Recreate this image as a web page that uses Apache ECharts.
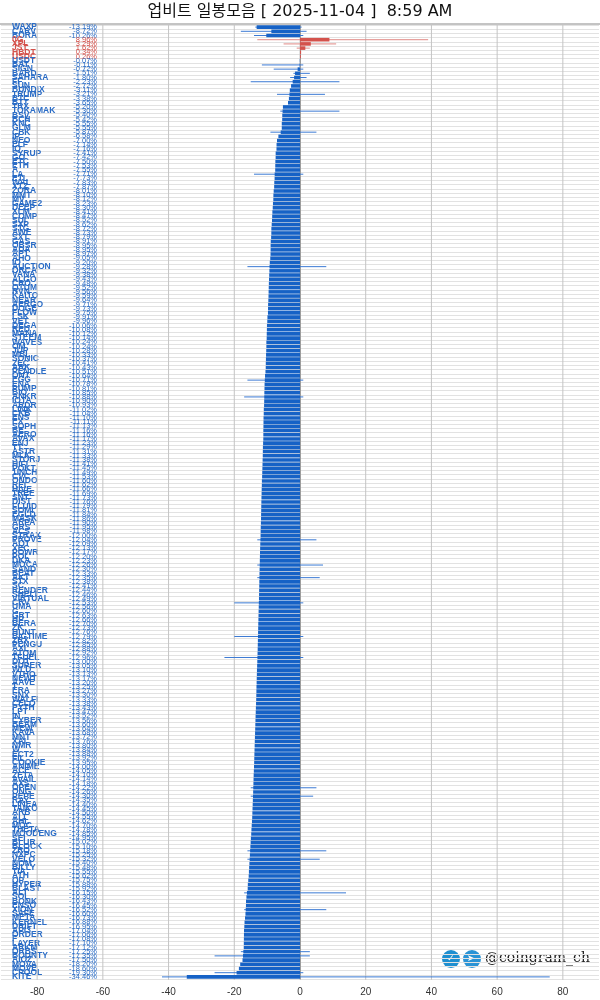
<!DOCTYPE html>
<html><head><meta charset="utf-8">
<script src="https://cdn.jsdelivr.net/npm/echarts@6/dist/echarts.min.js"></script>
<style>html,body{margin:0;padding:0;background:#fff}#c{width:600px;height:1000px}</style>
</head><body><div id="c"></div>
<script>
const names = ["WAXP","CARV","BORA","0G","XPL","JST","HBDT","USDC","USDT","BAT","SIGN","BARD","SAHARA","FF","SUN","BUNDIX","TRUMP","BTC","BTT","TRX","TOKAMAK","BSV","BCH","KNC","GLM","CBK","IP","NEO","ELF","IQ","SYRUP","GO","ETC","ETH","A","LA","ETL","WAL","XTZ","ZORA","MMT","MV","GAME2","DEEP","XLM","COMP","SUI","SXP","STG","AWE","SXT","GAS","OBSR","ADA","APT","AHO","IO","AUCTION","ORCA","VANA","ALGO","CRO","QTUM","RVN","KAITO","NEAR","AERGO","DOGE","FLOW","LSK","VET","DEGA","RED","MANA","STEEM","WAVES","OM","JUP","MBL","SONIC","ZEC","ARK","PENDLE","ONT","EGG","ENA","PUMP","BIO","ANKR","IOTA","ARDR","LINK","CKB","ENS","EX","SOPH","BE","AERO","AVAX","ENJ","TT","ASTR","MLK","STORJ","HIFI","POKT","1INCH","CVC","ONDO","REI","HIVE","TREE","SNT","DIST","FLUID","SOMI","EGLD","MASK","ARPA","GRS","ACS","STRAX","PROVE","AQT","XEC","POWR","POL","DKA","MOCA","SAND","BEAT","AKT","STX","SC","RENDER","SHELL","VIRTUAL","CRV","UMA","G","GRT","HP","BERA","ZK","HUNT","BIGTIME","ZRX","PENGU","AXL","ATOM","TFUEL","DOT","SUPER","WLD","VTHO","NEWT","AAVE","T","ERA","SNX","WALFI","CELO","PYTH","LPT","IN","CYBER","BEAM","MEW","KAVA","MNT","XAI","NMR","W","ECT2","FIL","COOKIE","ANIME","ACE","ZETA","AVAIL","AXS","OPEN","ONG","PEPE","RAY","LINEA","TAIKO","ARB","ALL","AHL","MOC","THETA","MOODENG","SEI","BLUR","BLOCK","ZRO","NXPC","VELO","NOM","BILLY","TIA","ATH","OP","HYPER","BLAST","ALT","SOL","BONK","ENSO","XION","SAFE","META","KERNEL","DRIFT","API3","ORDER","F","LAYER","ARKM","ORBS","BOUNTY","AIOZ","MOVA","MOVE","CPOOL","KITE"];
const changes = [-13.19,-8.72,-10.26,8.96,3.29,1.62,0.34,0.26,-0.07,-0.11,-0.72,-1.51,-1.80,-2.23,-2.72,-3.11,-3.21,-3.38,-3.65,-5.20,-5.30,-5.40,-5.42,-5.55,-5.55,-5.87,-6.58,-7.00,-7.14,-7.16,-7.41,-7.42,-7.50,-7.53,-7.55,-7.71,-7.73,-7.83,-7.87,-8.01,-8.10,-8.12,-8.23,-8.30,-8.41,-8.47,-8.52,-8.62,-8.72,-8.73,-8.79,-8.91,-8.95,-8.95,-8.97,-9.05,-9.20,-9.28,-9.32,-9.38,-9.43,-9.48,-9.52,-9.56,-9.59,-9.64,-9.71,-9.73,-9.75,-9.91,-9.96,-10.06,-10.08,-10.12,-10.14,-10.24,-10.24,-10.28,-10.33,-10.37,-10.41,-10.43,-10.51,-10.64,-10.71,-10.78,-10.81,-10.85,-10.88,-10.90,-10.93,-11.02,-11.04,-11.10,-11.11,-11.13,-11.16,-11.16,-11.17,-11.23,-11.29,-11.31,-11.33,-11.38,-11.41,-11.45,-11.49,-11.53,-11.60,-11.62,-11.66,-11.69,-11.73,-11.76,-11.79,-11.81,-11.84,-11.86,-11.90,-11.95,-11.98,-12.00,-12.04,-12.09,-12.13,-12.17,-12.20,-12.23,-12.26,-12.30,-12.33,-12.35,-12.38,-12.41,-12.44,-12.46,-12.49,-12.53,-12.56,-12.60,-12.63,-12.66,-12.70,-12.73,-12.76,-12.79,-12.82,-12.85,-12.88,-12.92,-12.96,-13.00,-13.05,-13.10,-13.13,-13.17,-13.20,-13.25,-13.27,-13.30,-13.33,-13.38,-13.43,-13.47,-13.52,-13.56,-13.60,-13.64,-13.68,-13.72,-13.76,-13.80,-13.84,-13.88,-13.92,-13.95,-14.00,-14.05,-14.10,-14.14,-14.18,-14.22,-14.26,-14.30,-14.35,-14.40,-14.45,-14.50,-14.55,-14.62,-14.70,-14.78,-14.85,-14.95,-15.02,-15.10,-15.18,-15.25,-15.32,-15.40,-15.48,-15.55,-15.62,-15.75,-15.88,-15.92,-16.15,-16.30,-16.43,-16.45,-16.52,-16.60,-16.73,-16.88,-16.95,-17.04,-17.06,-17.08,-17.10,-17.12,-17.25,-17.35,-17.50,-18.20,-18.60,-19.30,-34.46];
const wickNames = ["WAXP","CARV","BORA","0G","XPL","JST","BAT","SIGN","BARD","SAHARA","FF","TRUMP","TOKAMAK","CBK","LA","AUCTION","EGG","ANKR","PROVE","MOCA","AKT","CRV","BIGTIME","TFUEL","OPEN","PEPE","ZRO","VELO","ALT","XION","ORBS","BOUNTY","CPOOL","KITE"];
const wickLow = [-13.6,-18,-14,-13,-5,-1,-11.6,-8,-2,-3,-15,-7,-6,-9,-14,-16,-16,-17,-13,-13,-13,-20,-20,-23,-15,-15,-16,-16,-17,-17,-18,-26,-26,-42];
const wickHigh = [0.5,2,1,39,11,3,1,1,3,2,12,7.6,12,5,1,8,1,1,5,7,6,1,1,1,5,4,8,6,14,8,3,3,1,76];
const xTicks = [-80,-60,-40,-20,0,20,40,60,80];
const titleText = "업비트 일봉모음 [ 2025-11-04 ]  8:59 AM";

const chart = echarts.init(document.getElementById('c'));
const BLUE = '#1662c6', RED = '#d4524c';
const wickData = wickNames.map((n,i)=>[n,wickLow[i],wickHigh[i]]).filter(d=>names.indexOf(d[0])>=0);
const vLines = xTicks.map(v=>[v,names[0],v,names[names.length-1]]);
chart.setOption({
  animation:false,
  title:{text:titleText,left:'center',top:-1,textStyle:{fontFamily:'DejaVu Sans, Noto Sans CJK KR',fontSize:16,fontWeight:'normal',color:'#111'}},
  grid:{left:1,right:1,top:25,bottom:21,containLabel:false},
  xAxis:{type:'value',min:-91,max:91,
    axisLine:{show:false},axisTick:{show:false,customValues:xTicks},
    axisLabel:{customValues:xTicks,fontSize:10,color:'#333',fontFamily:'Liberation Sans',margin:8},
    splitLine:{show:false}},
  yAxis:[{type:'category',data:names,inverse:true,
    axisLine:{lineStyle:{color:'#777'}},
    axisTick:{inside:true,length:10,lineStyle:{color:'#777'}},
    splitLine:{show:true,interval:0,lineStyle:{color:'#e2e2e2'}},
    axisLabel:{inside:true,interval:0,margin:11,fontSize:8.5,fontWeight:'bold',fontFamily:'Liberation Sans',lineHeight:8,
      formatter:(v,i)=>changes[i]>0?'{r|'+v+'}':'{b|'+v+'}',
      rich:{r:{color:RED,fontSize:8.5,fontWeight:'bold'},b:{color:'#2a6cc6',fontSize:8.5,fontWeight:'bold'}}}},
   {type:'category',data:names,inverse:true,position:'left',offset:-99,
    axisLine:{show:false},axisTick:{show:false},
    axisLabel:{interval:0,margin:3,fontSize:7.5,fontFamily:'Liberation Sans',
      formatter:(v,i)=>{const s=changes[i].toFixed(2)+'%';return changes[i]>0?'{r|'+s+'}':'{b|'+s+'}';},
      rich:{r:{color:RED,fontSize:7.5},b:{color:'#2a6cc6',fontSize:7.5}}}}],
  series:[
   {type:'custom',yAxisIndex:0,data:vLines,z:2,silent:true,
    renderItem:(p,api)=>{const a=api.coord([api.value(0),api.value(1)]);const b=api.coord([api.value(2),api.value(3)]);
      return {type:'line',shape:{x1:a[0],y1:a[1]-3,x2:b[0],y2:b[1]+3},style:{stroke:'#c4c4c4',lineWidth:1}};},
    encode:{x:[0,2],y:[1,3]}},
   {type:'custom',yAxisIndex:0,data:wickData,z:3,
    renderItem:(p,api)=>{const y=api.value(0);const a=api.coord([api.value(1),y]);const b=api.coord([api.value(2),y]);
      const pos=changes[y]>0;
      return {type:'line',shape:{x1:a[0],y1:a[1],x2:b[0],y2:b[1]},style:{stroke:pos?'#e08a86':'#3b7ad4',lineWidth:1}};},
    encode:{y:0,x:[1,2]}},
   {type:'bar',yAxisIndex:0,barWidth:3.6,z:4,
    data:changes.map(v=>({value:v,itemStyle:{color:v>0?RED:BLUE}}))}
  ],
  graphic:[
   {type:'line',shape:{x1:0,y1:24,x2:600,y2:24},style:{stroke:'#888',lineWidth:1}},
   {type:'circle',shape:{cx:451,cy:959,r:9},style:{fill:'#1e8fd0'}},
   {type:'circle',shape:{cx:472,cy:959,r:9},style:{fill:'#2a93d5'}},
   {type:'text',x:447,y:954,style:{text:'✓',fill:'#fff',fontSize:9}},
   {type:'text',x:467,y:954,style:{text:'➤',fill:'#fff',fontSize:9}},
   {type:'text',x:485,y:951,style:{text:'@coingram_ch',fill:'#222',fontSize:14,fontFamily:'DejaVu Serif'}}
  ]
});
</script></body></html>
